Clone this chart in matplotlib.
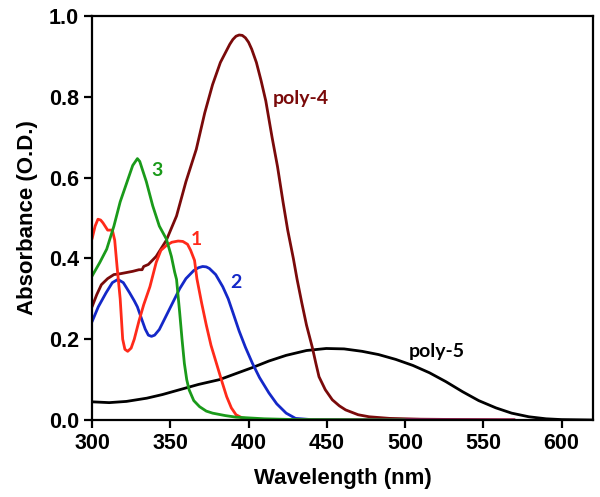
import matplotlib
matplotlib.use("Agg")
import matplotlib.pyplot as plt

# ---- data ----
x1 = [300, 302, 303.8, 305.5, 307, 310, 313, 314.5, 316, 318, 319.6, 321, 322.8, 325, 327, 330,
      333, 337, 341, 344, 347.5, 351, 355, 358, 361, 363, 365.5, 367, 370, 373, 376, 379.5, 383,
      386, 389, 392, 396, 402, 420, 570]
y1 = [0.448, 0.48, 0.497, 0.495, 0.488, 0.47, 0.47, 0.445, 0.38, 0.30, 0.20, 0.175, 0.17, 0.178,
      0.2, 0.245, 0.285, 0.33, 0.39, 0.42, 0.432, 0.44, 0.443, 0.442, 0.435, 0.42, 0.395, 0.35,
      0.29, 0.235, 0.185, 0.14, 0.095, 0.058, 0.03, 0.013, 0.005, 0.002, 0.0, 0.0]

x2 = [300, 304, 309, 313, 316.5, 320, 324, 327, 329, 331.7, 334, 336, 338, 340, 343, 347, 351.5,
      356, 360, 365, 368, 370.7, 373, 375, 379, 383.5, 387, 390, 394, 398, 402.5, 407, 413, 418,
      424, 430, 440, 570]
y2 = [0.243, 0.28, 0.315, 0.34, 0.348, 0.34, 0.315, 0.295, 0.28, 0.25, 0.225, 0.21, 0.207, 0.21,
      0.224, 0.255, 0.29, 0.325, 0.35, 0.37, 0.377, 0.38, 0.379, 0.375, 0.36, 0.33, 0.3, 0.266,
      0.22, 0.18, 0.14, 0.105, 0.067, 0.04, 0.017, 0.004, 0.001, 0.0]

x3 = [300, 305, 309.4, 314, 318, 322, 326, 329, 330.5, 334.7, 338.8, 343, 347.5, 350.7, 352.8,
      354, 356, 357.5, 359, 360.5, 362, 365, 368.7, 373, 377, 385, 392, 410, 430, 500]
y3 = [0.356, 0.39, 0.423, 0.48, 0.54, 0.585, 0.63, 0.647, 0.64, 0.59, 0.53, 0.48, 0.448, 0.405,
      0.366, 0.348, 0.266, 0.2, 0.14, 0.1, 0.075, 0.048, 0.033, 0.022, 0.017, 0.011, 0.007,
      0.003, 0.001, 0.0]

x4 = [300, 303, 306, 310, 314, 318, 322, 326, 330, 332, 333, 336, 341, 347.5, 354, 360, 366.6,
      372, 377, 382, 386, 388, 390, 392, 394, 396, 398, 400, 402, 405, 408, 411, 415, 418.5, 422,
      425, 428.6, 431, 434, 437, 440.7, 443, 445, 449, 453.5, 458, 462, 470, 477, 490, 510, 570]
y4 = [0.28, 0.31, 0.335, 0.35, 0.36, 0.362, 0.365, 0.368, 0.372, 0.372, 0.38, 0.385, 0.405,
      0.445, 0.505, 0.59, 0.67, 0.76, 0.83, 0.885, 0.915, 0.93, 0.942, 0.95, 0.953, 0.952, 0.946,
      0.935, 0.918, 0.885, 0.84, 0.79, 0.7, 0.627, 0.54, 0.47, 0.4, 0.348, 0.29, 0.235, 0.18,
      0.14, 0.107, 0.075, 0.05, 0.035, 0.025, 0.013, 0.008, 0.004, 0.002, 0.0]

x5 = [300, 311, 322, 335, 345, 356, 368, 381.5, 392, 402.6, 413, 424, 437, 449.6, 461, 472.5,
      483, 494, 505, 515.5, 526, 536.7, 547, 558, 568, 579, 590, 600, 620]
y5 = [0.045, 0.043, 0.046, 0.054, 0.063, 0.075, 0.088, 0.10, 0.115, 0.13, 0.146, 0.16, 0.172,
      0.177, 0.176, 0.17, 0.162, 0.15, 0.135, 0.117, 0.095, 0.07, 0.048, 0.03, 0.017, 0.008,
      0.003, 0.001, 0.0]

xticks = [300, 350, 400, 450, 500, 550, 600]
yticks = [0.0, 0.2, 0.4, 0.6, 0.8, 1.0]

c_red = "#ff2a1a"
c_blue = "#1428c8"
c_green = "#1a9a1a"
c_dred = "#7a0a0a"
c_black = "#000000"

plt.rcParams['font.family'] = ['Liberation Sans', 'DejaVu Sans']

fig = plt.figure(figsize=(6.0, 4.97), dpi=100)
ax = fig.add_axes([92/600, 77/497, 501/600, 404/497])

lw = 2.0
kw = dict(lw=lw, solid_joinstyle='round', solid_capstyle='round')
ax.plot(x5, y5, color=c_black, **kw)
ax.plot(x4, y4, color=c_dred, **kw)
ax.plot(x2, y2, color=c_blue, **kw)
ax.plot(x1, y1, color=c_red, **kw)
ax.plot(x3, y3, color=c_green, **kw)

afont = ['Lato', 'DejaVu Sans']
tfs = 14
ax.text(341.4, 0.617, "3", color=c_green, fontsize=tfs, fontweight='bold', family=afont, ha='center', va='center')
ax.text(366.7, 0.448, "1", color=c_red, fontsize=tfs, fontweight='bold', family=afont, ha='center', va='center')
ax.text(392, 0.34, "2", color=c_blue, fontsize=tfs, fontweight='bold', family=afont, ha='center', va='center')
ax.text(433.5, 0.796, "poly-4", color=c_dred, fontsize=tfs, fontweight='bold', family=afont, ha='center', va='center')
ax.text(520.5, 0.169, "poly-5", color=c_black, fontsize=tfs, fontweight='bold', family=afont, ha='center', va='center')

ax.set_xlim(300, 620)
ax.set_ylim(0, 1.0)
ax.set_xticks(xticks)
ax.set_yticks(yticks)
ax.set_xticklabels([str(v) for v in xticks])
ax.set_yticklabels([f"{v:.1f}" for v in yticks])
ax.tick_params(direction='out', length=6, width=1.6, labelsize=15.5)
for lab in ax.get_xticklabels() + ax.get_yticklabels():
    lab.set_fontweight('bold')
for s in ax.spines.values():
    s.set_linewidth(1.6)

ax.set_xlabel("Wavelength (nm)", fontsize=16, fontweight='bold', labelpad=10)
ax.set_ylabel("Absorbance (O.D.)", fontsize=16, fontweight='bold', labelpad=8)

fig.savefig("out.png", dpi=100)
